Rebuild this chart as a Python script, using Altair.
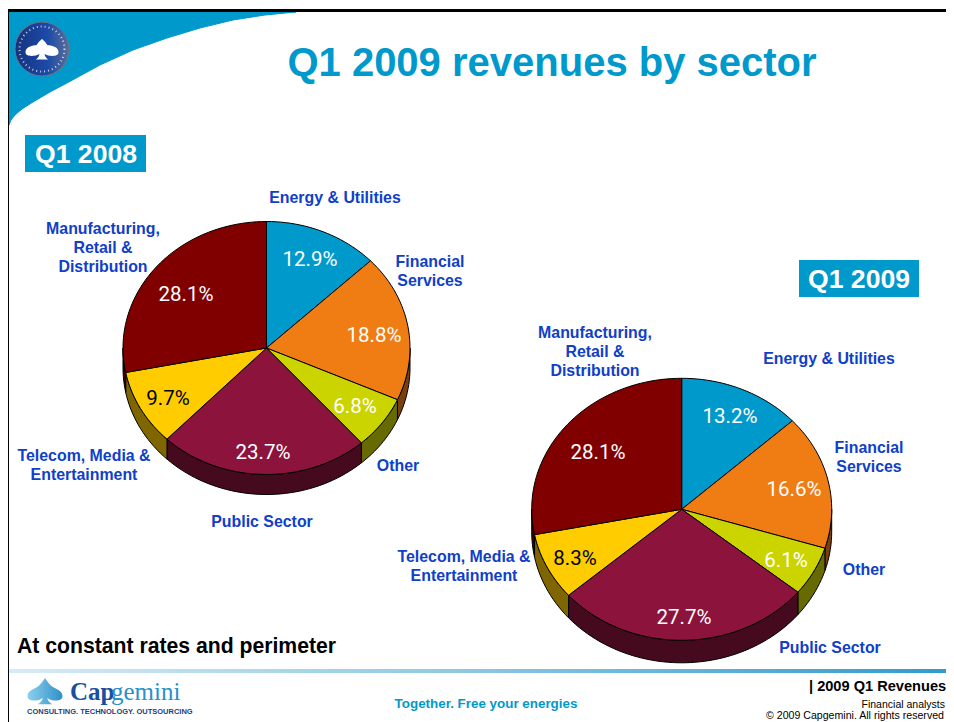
import math
import altair as alt
import pandas as pd

# ---- values ----
sectors = ["Energy & Utilities", "Financial Services", "Other", "Public Sector",
           "Telecom, Media & Entertainment", "Manufacturing, Retail & Distribution"]
shares_2008 = [12.9, 18.8, 6.8, 23.7, 9.7, 28.1]
shares_2009 = [13.2, 16.6, 6.1, 27.7, 8.3, 28.1]
face_colors = ["#0099CC", "#F07D14", "#CCD400", "#8C143C", "#FFCC00", "#800000"]
wall_colors = ["#004D66", "#784010", "#666A00", "#460A1E", "#806600", "#400000"]
share_text_colors = ["#FFFFFF", "#FFFFFF", "#FFFFFF", "#FFFFFF", "#000000", "#FFFFFF"]

labels_2008 = ["Energy & Utilities", "Financial\nServices", "Other", "Public Sector",
               "Telecom, Media &\nEntertainment", "Manufacturing,\nRetail &\nDistribution"]
labels_2009 = labels_2008

# ---- layout (page pixels) ----
W, H, M = 946, 722, 8
PIE_2008 = dict(cx=266.5, cy=348, rx=143.5, ry=126.5, depth=20)
PIE_2009 = dict(cx=681.7, cy=509.3, rx=150, ry=131, depth=22.5)
label_pos_2008 = [(335, 198), (430, 262), (398, 466), (262, 522), (84, 456), (103, 229)]
label_pos_2009 = [(829, 359), (869, 448), (864, 570), (830, 648), (464, 557), (595, 333)]
share_pos_2008 = [(310, 260), (374, 336), (355, 407), (263, 453), (168, 399), (186, 295)]
share_pos_2009 = [(730, 417), (794, 490), (786, 561), (684, 618), (575, 559), (598, 453)]
swoosh_edge = [(9, 125), (11, 120), (15, 115), (22, 109), (33, 102), (50, 92), (67, 83), (100, 65),
               (133, 50), (167, 38), (200, 28), (233, 20), (265, 15), (296, 12), (9, 12)]

LABEL_BLUE = "#1040C8"
BRAND = "#0099CC"
SANS = "Liberation Sans"
CONDENSED = "Roboto"


def px(v):
    return v - M


def text(t, x, y, **kw):
    kw.setdefault("font", SANS)
    kw.setdefault("baseline", "middle")
    return alt.Chart(pd.DataFrame({"t": [t]})).mark_text(x=px(x), y=px(y), **kw).encode(text="t:N")


def rect(x0, x1, y0, y1, fill):
    return alt.Chart(pd.DataFrame({"a": [0]})).mark_rect(fill=fill).encode(
        x=alt.value(px(x0)), x2=alt.value(px(x1)), y=alt.value(px(y0)), y2=alt.value(px(y1)))


def unit_scales(p):
    sx = alt.Scale(domain=[-1, 1], range=[px(p["cx"] - p["rx"]), px(p["cx"] + p["rx"])])
    sy = alt.Scale(domain=[-1, 1], range=[px(p["cy"] + p["ry"]), px(p["cy"] - p["ry"])])
    return sx, sy


def angle_steps(a0, a1):
    n = max(2, int(abs(a1 - a0) / 2) + 2)
    return [a0 + (a1 - a0) * i / (n - 1) for i in range(n)]


def wedge_rows(shares):
    rows, start = [], 0.0
    for s, v in zip(sectors, shares):
        a0, a1 = start * 3.6, (start + v) * 3.6
        pts = [(0.0, 0.0)] + [(math.sin(math.radians(a)), math.cos(math.radians(a))) for a in angle_steps(a0, a1)]
        rows += [{"sector": s, "i": i, "ux": x, "uy": y} for i, (x, y) in enumerate(pts)]
        start += v
    return pd.DataFrame(rows)


def wall_rows(shares, p):
    rows, start = [], 0.0
    drop = p["depth"] / p["ry"]
    for s, v in zip(sectors, shares):
        a0, a1 = max(start * 3.6, 90), min((start + v) * 3.6, 270)
        if a1 > a0:
            arc = [(math.sin(math.radians(a)), math.cos(math.radians(a))) for a in angle_steps(a0, a1)]
            pts = arc + [(x, y - drop) for x, y in reversed(arc)]
            rows += [{"sector": s, "i": i, "ux": x, "uy": y} for i, (x, y) in enumerate(pts)]
        start += v
    return pd.DataFrame(rows)


def pie(shares, p, colors, rows):
    sx, sy = unit_scales(p)
    return alt.Chart(rows).mark_line(interpolate="linear-closed", stroke="#000000", strokeWidth=1).encode(
        x=alt.X("ux:Q", scale=sx, axis=None),
        y=alt.Y("uy:Q", scale=sy, axis=None),
        order="i:Q",
        fill=alt.Fill("sector:N", scale=alt.Scale(domain=sectors, range=colors), legend=None),
    )


def share_labels(shares, positions):
    out = []
    for v, (x, y), c in zip(shares, positions, share_text_colors):
        out.append(text(f"{v:.1f}%", x, y, font=CONDENSED, fontSize=20.5, color=c, align="center"))
    return out


def sector_labels(labels, positions):
    return [text(t, x, y, fontSize=15.9, fontWeight="bold", color=LABEL_BLUE, align="center", lineBreak="\n", lineHeight=19)
            for t, (x, y) in zip(labels, positions)]


swoosh = alt.Chart(pd.DataFrame({"x": [px(a) for a, _ in swoosh_edge],
                                 "y": [px(b) for _, b in swoosh_edge],
                                 "i": range(len(swoosh_edge))})).mark_line(
    interpolate="linear-closed", fill=BRAND, stroke=BRAND, strokeWidth=1).encode(
    x=alt.X("x:Q", scale=None, axis=None), y=alt.Y("y:Q", scale=None, axis=None), order="i:Q")

CLOUD = ("M -1 0.2 C -1 -0.15 -0.55 -0.2 -0.32 -0.24 C -0.2 -0.45 0 -0.6 0 -0.6 C 0 -0.6 0.2 -0.45 0.32 -0.24 "
         "C 0.55 -0.2 1 -0.15 1 0.2 C 1 0.5 0.4 0.45 0.15 0.3 C 0.2 0.5 0.3 0.6 0.4 0.64 L -0.4 0.64 "
         "C -0.3 0.6 -0.2 0.5 -0.15 0.3 C -0.4 0.45 -1 0.5 -1 0.2 Z")
SPADE = ("M -1 0.3 C -1 -0.05 -0.6 -0.1 -0.35 -0.3 C -0.2 -0.45 -0.05 -0.65 0 -0.75 C 0.05 -0.65 0.2 -0.45 0.35 -0.3 "
         "C 0.6 -0.1 1 -0.05 1 0.3 C 1 0.62 0.4 0.6 0.12 0.4 C 0.18 0.58 0.3 0.7 0.42 0.75 L -0.42 0.75 "
         "C -0.3 0.7 -0.18 0.58 -0.12 0.4 C -0.4 0.6 -1 0.62 -1 0.3 Z")


def symbol(x, y, size, **kw):
    kw.setdefault("opacity", 1)
    return alt.Chart(pd.DataFrame({"a": [0]})).mark_point(x=px(x), y=px(y), size=size, **kw).encode()


def h_gradient(stops):
    return alt.LinearGradient(gradient="linear", x1=0, x2=1, y1=0, y2=0,
                              stops=[alt.GradientStop(color=c, offset=o) for c, o in stops])


seal_fill = h_gradient([("#16327E", 0), ("#1C4AA8", 0.6), ("#5A6E9A", 1)])
rule_fill = h_gradient([("#D6ECF6", 0), ("#8CC6E0", 0.5), ("#2F9CCB", 1)])
spade_fill = h_gradient([("#8CD0EE", 0), ("#2F8FC8", 1)])

layers = [
    swoosh,
    rect(M, W, 9, 12, "#000000"),
    rect(M, 9, 9, H, "#000000"),
    symbol(42, 49, 2916, shape="circle", filled=True, fill=seal_fill, stroke="#6E7480", strokeWidth=1),
    symbol(42, 49, 2025, shape="circle", filled=False, stroke="#FFFFFF", strokeWidth=2, strokeDash=[1, 3], opacity=0.75),
    symbol(42, 49, 1089, shape=CLOUD, filled=True, fill="#FFFFFF"),
    text("Q1 2009 revenues by sector", 552, 64, fontSize=40, fontWeight="bold", color=BRAND, align="center"),
    rect(25, 146, 135, 172, BRAND),
    text("Q1 2008", 86, 155, fontSize=26.6, fontWeight="bold", color="#FFFFFF", align="center"),
    rect(799, 919, 260, 297, BRAND),
    text("Q1 2009", 859, 280, fontSize=26.6, fontWeight="bold", color="#FFFFFF", align="center"),
    pie(shares_2008, PIE_2008, wall_colors, wall_rows(shares_2008, PIE_2008)),
    pie(shares_2008, PIE_2008, face_colors, wedge_rows(shares_2008)),
    pie(shares_2009, PIE_2009, wall_colors, wall_rows(shares_2009, PIE_2009)),
    pie(shares_2009, PIE_2009, face_colors, wedge_rows(shares_2009)),
    *share_labels(shares_2008, share_pos_2008),
    *share_labels(shares_2009, share_pos_2009),
    *sector_labels(labels_2008, label_pos_2008),
    *sector_labels(labels_2009, label_pos_2009),
    text("At constant rates and perimeter", 17, 647, fontSize=21.2, fontWeight="bold", color="#000000", align="left"),
    rect(9, W, 669, 673, rule_fill),
    symbol(45, 691, 1225, shape=SPADE, filled=True, fill=spade_fill),
    text("Cap", 70, 692, font="Liberation Serif", fontSize=25, fontWeight="bold", color="#1A4FA0", align="left"),
    text("gemini", 111, 692, font="Liberation Serif", fontSize=25, color="#2A8FCA", align="left"),
    text("CONSULTING. TECHNOLOGY. OUTSOURCING", 27, 712, fontSize=7.5, fontWeight="bold", color="#1A3F80", align="left"),
    text("Together. Free your energies", 486, 704, fontSize=13.4, fontWeight="bold", color=BRAND, align="center"),
    text("| 2009 Q1 Revenues", 809, 687, fontSize=14.6, fontWeight="bold", color="#000000", align="left"),
    text("Financial analysts", 945, 705, fontSize=10.5, color="#000000", align="right"),
    text("© 2009 Capgemini. All rights reserved", 766, 716, fontSize=10.6, color="#000000", align="left"),
]

chart = alt.layer(*layers).resolve_scale(x="independent", y="independent", fill="independent").properties(
    width=W - M, height=H - M, padding=0, background="#FFFFFF",
    autosize=alt.AutoSizeParams(type="none"),
).configure_view(stroke=None)

chart.save("out.html", embed_options={"renderer": "svg", "actions": False})
